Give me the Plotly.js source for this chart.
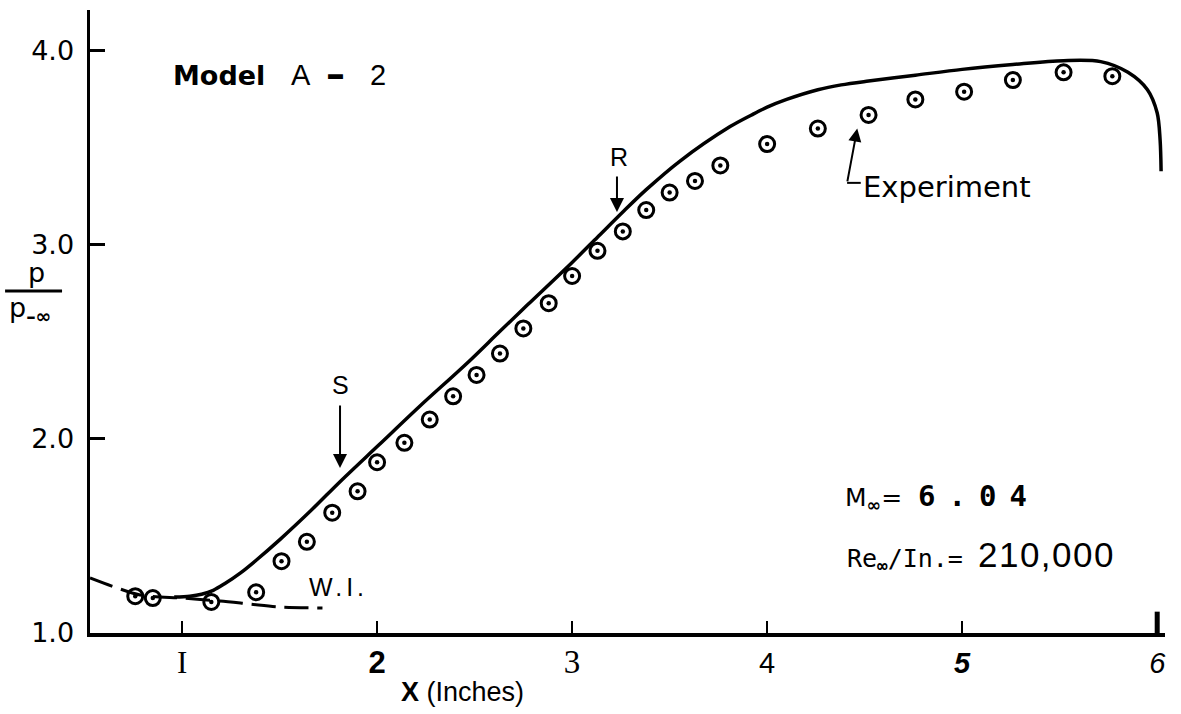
<!DOCTYPE html>
<html>
<head>
<meta charset="utf-8">
<script src="https://cdn.plot.ly/plotly-3.0.1.min.js"></script>
<style>
  html, body { margin: 0; padding: 0; background: #ffffff; }
  #chart { width: 1181px; height: 714px; }
</style>
</head>
<body>
<div id="chart"></div>
<script>
// Pressure ratio p/p-inf along Model A-2, M = 6.04, Re/in = 210,000

// Measured pressures (circled points)
const experimentX = [0.76, 0.85, 1.15, 1.38, 1.51, 1.64, 1.77, 1.90, 2.00, 2.14, 2.27, 2.39, 2.51, 2.63,
                     2.75, 2.88, 3.00, 3.13, 3.26, 3.38, 3.50, 3.63, 3.76, 4.00, 4.26, 4.52, 4.76, 5.01,
                     5.26, 5.52, 5.77];
const experimentY = [1.19, 1.18, 1.16, 1.21, 1.37, 1.47, 1.62, 1.73, 1.88, 1.98, 2.10, 2.22, 2.33, 2.44,
                     2.57, 2.70, 2.84, 2.97, 3.07, 3.18, 3.27, 3.33, 3.41, 3.52, 3.60, 3.67, 3.75, 3.79,
                     3.85, 3.89, 3.87];

// Theoretical distribution (solid curve)
const theoryX = [0.96, 1.04, 1.10, 1.16, 1.22, 1.30, 1.38, 1.50, 1.67, 1.81, 2.01, 2.22, 2.45, 2.63,
                 2.77, 3.00, 3.13, 3.26, 3.38, 3.55, 3.81, 3.92, 4.00, 4.10, 4.26, 4.38, 4.52, 4.76,
                 5.00, 5.26, 5.52, 5.71, 5.85, 5.95, 6.00, 6.015, 6.02];
const theoryY = [1.185, 1.19, 1.20, 1.22, 1.255, 1.31, 1.375, 1.48, 1.64, 1.78, 1.97, 2.17, 2.38, 2.555,
                 2.69, 2.91, 3.04, 3.17, 3.285, 3.43, 3.61, 3.67, 3.71, 3.75, 3.80, 3.825, 3.845, 3.875,
                 3.905, 3.93, 3.95, 3.945, 3.89, 3.80, 3.68, 3.54, 3.38];

// Weak-interaction curve (dashed, "W.I.")
const weakX = [0.528, 0.64, 0.785, 1.00, 1.195, 1.35, 1.50, 1.72];
const weakY = [1.284, 1.242, 1.196, 1.18, 1.165, 1.149, 1.134, 1.129];

// Axis ticks
const xTickVals = [1, 2, 3, 4, 5, 6];
const xTickLabels = ['I', '2', '3', '4', '5', '6'];
const yTickVals = [1, 2, 3, 4];
const yTickLabels = ['1.0', '2.0', '3.0', '4.0'];

// Marked stations on the theory curve
const separationX = 1.81;   // S
const reattachX = 3.23;     // R

// Hand-lettered look: each x tick label in its own face
const xTickFaces = [
  'font-family:Liberation Serif;font-size:31px',
  'font-family:Liberation Sans;font-weight:bold;font-size:31px',
  'font-family:Liberation Serif;font-size:33px',
  'font-family:Liberation Sans',
  'font-family:Liberation Sans;font-weight:bold;font-style:italic',
  'font-family:Liberation Sans;font-style:italic'
];
const xTickText = xTickLabels.map((t, i) => '<span style="' + xTickFaces[i] + '">' + t + '</span>');

const ink = '#000000';

const traces = [
  {
    x: weakX, y: weakY, type: 'scatter', mode: 'lines',
    line: { color: ink, width: 3, dash: '24px,9px', shape: 'spline', smoothing: 0.8 },
    hoverinfo: 'skip'
  },
  {
    x: theoryX, y: theoryY, type: 'scatter', mode: 'lines',
    line: { color: ink, width: 3.5, shape: 'spline', smoothing: 0.9 },
    hoverinfo: 'skip'
  },
  {
    // circled data points
    x: experimentX, y: experimentY, type: 'scatter', mode: 'markers',
    marker: { symbol: 'circle-open', size: 15, color: ink, line: { color: ink, width: 3 } },
    cliponaxis: false
  },
  {
    // centre dots of the circled points
    x: experimentX, y: experimentY, type: 'scatter', mode: 'markers',
    marker: { symbol: 'circle', size: 4.5, color: ink, line: { width: 0 } },
    cliponaxis: false, hoverinfo: 'skip'
  }
];

function interp(xs, ys, x) {
  for (let i = 0; i < xs.length - 1; i++) {
    if (x >= xs[i] && x <= xs[i + 1]) {
      const f = (x - xs[i]) / (xs[i + 1] - xs[i]);
      return ys[i] + f * (ys[i + 1] - ys[i]);
    }
  }
  return ys[ys.length - 1];
}
const sY = interp(theoryX, theoryY, separationX);
const rY = interp(theoryX, theoryY, reattachX);

const annotations = [
  // Model label
  { x: 1.19, y: 3.875, xref: 'x', yref: 'y', text: 'Model', showarrow: false,
    font: { family: 'DejaVu Sans', size: 27, color: ink, weight: 'bold' } },
  { x: 1.61, y: 3.875, xref: 'x', yref: 'y', text: 'A', showarrow: false,
    font: { family: 'Liberation Sans', size: 29, color: ink } },
  { x: 1.785, y: 3.88, xref: 'x', yref: 'y', text: '–', showarrow: false,
    font: { family: 'DejaVu Sans', size: 38, color: ink, weight: 'bold' } },
  { x: 2.005, y: 3.875, xref: 'x', yref: 'y', text: '2', showarrow: false,
    font: { family: 'Liberation Sans', size: 29, color: ink } },

  // S and R markers
  { x: separationX, y: sY + 0.07, ax: separationX, ay: sY + 0.40, xref: 'x', yref: 'y', axref: 'x', ayref: 'y',
    text: '', showarrow: true, arrowhead: 2, arrowsize: 1.4, arrowwidth: 2, arrowcolor: ink },
  { x: separationX, y: sY + 0.50, xref: 'x', yref: 'y', text: 'S', showarrow: false,
    font: { family: 'Liberation Sans', size: 25, color: ink } },
  { x: reattachX, y: rY + 0.03, ax: reattachX, ay: rY + 0.22, xref: 'x', yref: 'y', axref: 'x', ayref: 'y',
    text: '', showarrow: true, arrowhead: 2, arrowsize: 1.4, arrowwidth: 2, arrowcolor: ink },
  { x: reattachX + 0.01, y: rY + 0.315, xref: 'x', yref: 'y', text: 'R', showarrow: false,
    font: { family: 'Liberation Sans', size: 25, color: ink } },

  // Experiment callout
  { x: 4.462, y: 3.60, ax: 4.41, ay: 3.32, xref: 'x', yref: 'y', axref: 'x', ayref: 'y',
    text: '', showarrow: true, arrowhead: 2, arrowsize: 1.3, arrowwidth: 2, arrowcolor: ink },
  { x: 4.48, y: 3.30, xref: 'x', yref: 'y', xanchor: 'left', text: 'Experiment', showarrow: false,
    font: { family: 'DejaVu Sans', size: 29, color: ink } },

  // W.I. label
  { x: 1.80, y: 1.235, xref: 'x', yref: 'y', showarrow: false,
    text: '<span style="letter-spacing:4px">W.I.</span>',
    font: { family: 'Liberation Sans', size: 25, color: ink } },

  // Flow conditions
  { x: 4.39, y: 1.70, xref: 'x', yref: 'y', xanchor: 'left', showarrow: false,
    text: 'M<sub><b>∞</b></sub>=\u00a0\u00a0<span style="font-family:DejaVu Sans Mono;font-weight:bold;font-size:29px;letter-spacing:13px">6.04</span>',
    font: { family: 'DejaVu Sans', size: 25, color: ink } },
  { x: 4.40, y: 1.40, xref: 'x', yref: 'y', xanchor: 'left', showarrow: false,
    text: 'Re<sub><b>∞</b></sub>/In.=\u00a0<span style="font-family:Liberation Sans;font-size:35px;letter-spacing:1.5px">210,000</span>',
    font: { family: 'DejaVu Sans Mono', size: 25, color: ink } },

  // Axis titles
  { x: 2.44, y: -0.095, xref: 'x', yref: 'paper', yanchor: 'middle', showarrow: false,
    text: '<b>X</b> (Inches)',
    font: { family: 'Liberation Sans', size: 27, color: ink } },
  { x: -0.06, y: 0.578, xref: 'paper', yref: 'paper', showarrow: false, text: 'p',
    font: { family: 'DejaVu Sans', size: 27, color: ink } },
  { x: -0.077, y: 0.52, xref: 'paper', yref: 'paper', xanchor: 'left', showarrow: false,
    text: 'p<sub><b>–∞</b></sub>',
    font: { family: 'DejaVu Sans', size: 27, color: ink } }
];

const shapes = [
  // fraction bar of the y label
  { type: 'line', xref: 'paper', yref: 'paper', x0: -0.079, x1: -0.026, y0: 0.549, y1: 0.549,
    line: { color: ink, width: 3 } },
  // heavy end mark at x = 6
  { type: 'line', xref: 'x', yref: 'y', x0: 6, x1: 6, y0: 1, y1: 1.11,
    line: { color: ink, width: 5 } },
  // leader of the Experiment callout
  { type: 'line', xref: 'x', yref: 'y', x0: 4.41, x1: 4.48, y0: 3.32, y1: 3.32,
    line: { color: ink, width: 2 } }
];

const layout = {
  width: 1181, height: 714,
  margin: { l: 90, r: 16, t: 10, b: 81 },
  paper_bgcolor: '#ffffff', plot_bgcolor: '#ffffff',
  showlegend: false,
  xaxis: {
    range: [0.528, 6.04], showgrid: false, zeroline: false,
    showline: true, linecolor: ink, linewidth: 4,
    ticks: 'inside', ticklen: 12, tickwidth: 2, tickcolor: ink,
    tickvals: xTickVals, ticktext: xTickText, ticklabelstandoff: 1,
    tickfont: { family: 'Liberation Sans', size: 29, color: ink }
  },
  yaxis: {
    range: [1, 4.211], showgrid: false, zeroline: false,
    showline: true, linecolor: ink, linewidth: 3.5,
    ticks: 'inside', ticklen: 15, tickwidth: 3, tickcolor: ink,
    tickvals: yTickVals, ticktext: yTickLabels, ticklabelstandoff: 7,
    tickfont: { family: 'DejaVu Sans', size: 27, color: ink }
  },
  annotations: annotations,
  shapes: shapes
};

Plotly.newPlot('chart', traces, layout, { staticPlot: true, displayModeBar: false });
</script>
</body>
</html>
